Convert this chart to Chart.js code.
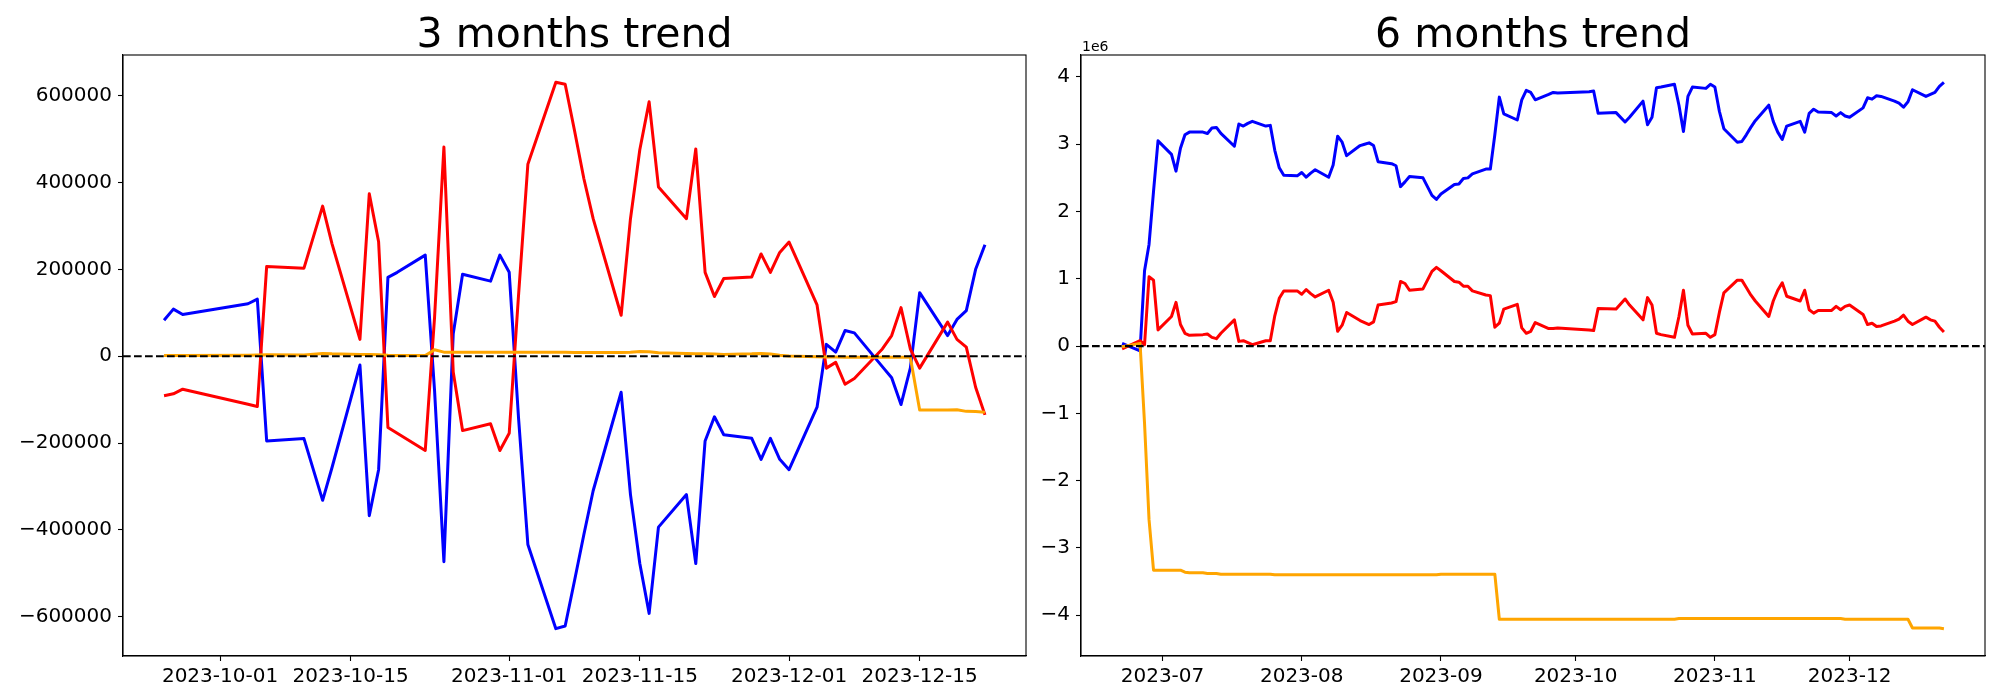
<!DOCTYPE html>
<html>
<head>
<meta charset="utf-8">
<script src="https://cdn.jsdelivr.net/npm/chart.js@4.4.0/dist/chart.umd.min.js"></script>
<style>
  body { margin: 0; background: #fff; }
  #wrap { position: relative; width: 2000px; height: 700px; }
  canvas { position: absolute; top: 0; }
</style>
</head>
<body>
<div id="wrap">
  <canvas id="left" width="1030" height="700" style="left:0"></canvas>
  <canvas id="right" width="970" height="700" style="left:1030px"></canvas>
</div>
<script>
// ---- 3 months trend (raw units) ----
const shortDates = [
  '2023-09-25','2023-09-26','2023-09-27','2023-10-04','2023-10-05','2023-10-06','2023-10-10','2023-10-12','2023-10-13',
  '2023-10-16','2023-10-17','2023-10-18','2023-10-19','2023-10-20','2023-10-23','2023-10-24','2023-10-25','2023-10-26',
  '2023-10-27','2023-10-30','2023-10-31','2023-11-01','2023-11-02','2023-11-03','2023-11-06','2023-11-07','2023-11-08',
  '2023-11-09','2023-11-10','2023-11-13','2023-11-14','2023-11-15','2023-11-16','2023-11-17','2023-11-20','2023-11-21',
  '2023-11-22','2023-11-23','2023-11-24','2023-11-27','2023-11-28','2023-11-29','2023-11-30','2023-12-01','2023-12-04',
  '2023-12-05','2023-12-06','2023-12-07','2023-12-08','2023-12-11','2023-12-12','2023-12-13','2023-12-14','2023-12-15',
  '2023-12-18','2023-12-19','2023-12-20','2023-12-21','2023-12-22'
];
const shortBlue = [
  83000, 108600, 96200, 121000, 131600, -195100, -189800, -332000, -257000,
  -20300, -367300, -261400, 181900, 193400, 233100, -80000, -473300, 52100,
  189000, 173100, 233100, 193400, -142200, -433600, -627800, -621600, -517400,
  -411500, -309900, -83000, -318800, -477700, -592500, -393800, -318800, -477700,
  -195100, -139500, -181000, -189000, -237500, -189000, -237500, -261400, -117400,
  27400, 9700, 59200, 53900, -23800, -49400, -111300, -27400, 146600,
  47700, 84800, 105100, 200400, 257000
];
const shortRed = [
  -90900, -86500, -75900, -110400, -115700, 206600, 203100, 346100, 259600,
  38900, 374400, 264000, -164200, -177500, -217200, 90000, 482100, -36200,
  -171300, -155400, -217200, -177500, 140400, 442400, 631300, 626900, 520100,
  409700, 317000, 94500, 317000, 475900, 586300, 390300, 317000, 477700,
  193400, 137700, 179200, 182800, 235800, 193400, 239300, 263100, 118300,
  -27400, -14100, -64500, -51200, 16800, 47700, 112100, 16800, -27400,
  78600, 38900, 21200, -71500, -135100
];
const shortOrange = [
  1500, 1800, 2000, 2500, 3000, 3500, 3000, 6500, 5500,
  4000, 4000, 3500, 2500, 2000, 1500, 15000, 9500, 9000,
  9000, 9500, 9000, 9000, 9000, 9000, 9000, 9000, 8500,
  8500, 8500, 8500, 9000, 11000, 10500, 8000, 6500, 6000,
  5500, 5000, 4000, 5500, 6500, 5000, 2500, 500, -1000,
  -1500, -1500, -2000, -2000, -2000, -2500, -2500, -2500, -124000,
  -124000, -123500, -127000, -127500, -129000
];
const shortTicks = ['2023-10-01','2023-10-15','2023-11-01','2023-11-15','2023-12-01','2023-12-15'];
const shortYTicks = [-600000, -400000, -200000, 0, 200000, 400000, 600000];

// ---- 6 months trend (in millions, axis offset 1e6) ----
const longDates = [
  '2023-06-22','2023-06-26','2023-06-27','2023-06-28','2023-06-29','2023-06-30',
  '2023-07-03','2023-07-04','2023-07-05','2023-07-06','2023-07-07','2023-07-10','2023-07-11','2023-07-12','2023-07-13',
  '2023-07-14','2023-07-17','2023-07-18','2023-07-19','2023-07-20','2023-07-21','2023-07-24','2023-07-25','2023-07-26',
  '2023-07-27','2023-07-28','2023-07-31',
  '2023-08-01','2023-08-02','2023-08-03','2023-08-04','2023-08-07','2023-08-08','2023-08-09','2023-08-10','2023-08-11',
  '2023-08-14','2023-08-15','2023-08-16','2023-08-17','2023-08-18','2023-08-21','2023-08-22','2023-08-23','2023-08-24',
  '2023-08-25','2023-08-28','2023-08-29','2023-08-30','2023-08-31',
  '2023-09-01','2023-09-04','2023-09-05','2023-09-06','2023-09-07','2023-09-08','2023-09-11','2023-09-12','2023-09-13',
  '2023-09-14','2023-09-15','2023-09-18','2023-09-19','2023-09-20','2023-09-21','2023-09-22'
].concat(shortDates);
const longBlue = [
  0.04, -0.07, 1.12, 1.51, 2.30, 3.05,
  2.85, 2.60, 2.94, 3.14, 3.18, 3.18, 3.16, 3.24, 3.25,
  3.16, 2.97, 3.30, 3.27, 3.31, 3.34, 3.27, 3.28, 2.91,
  2.65, 2.54, 2.53,
  2.58, 2.51, 2.57, 2.62, 2.51, 2.69, 3.12, 3.03, 2.83,
  2.98, 3.00, 3.02, 2.98, 2.74, 2.71, 2.68, 2.37, 2.44,
  2.52, 2.50, 2.37, 2.24, 2.18,
  2.26, 2.40, 2.41, 2.49, 2.50, 2.56, 2.63, 2.63, 3.14,
  3.70, 3.45, 3.36, 3.66, 3.80, 3.77, 3.66,
  3.74, 3.77, 3.76, 3.78, 3.79, 3.46, 3.47, 3.33, 3.40,
  3.64, 3.29, 3.40, 3.84, 3.85, 3.89, 3.58, 3.19, 3.71,
  3.85, 3.83, 3.89, 3.85, 3.49, 3.23, 3.03, 3.04, 3.14,
  3.25, 3.35, 3.58, 3.34, 3.18, 3.07, 3.27, 3.34, 3.18,
  3.46, 3.52, 3.48, 3.47, 3.42, 3.47, 3.42, 3.40, 3.54,
  3.69, 3.67, 3.72, 3.71, 3.64, 3.61, 3.55, 3.63, 3.81,
  3.71, 3.74, 3.77, 3.86, 3.92
];
const longRed = [
  -0.04, 0.08, 0.02, 1.03, 0.98, 0.24,
  0.44, 0.65, 0.32, 0.19, 0.16, 0.17, 0.18, 0.13, 0.11,
  0.19, 0.39, 0.07, 0.08, 0.05, 0.02, 0.08, 0.08, 0.45,
  0.71, 0.82, 0.82,
  0.77, 0.84, 0.78, 0.73, 0.83, 0.65, 0.22, 0.31, 0.50,
  0.38, 0.35, 0.32, 0.36, 0.61, 0.64, 0.66, 0.96, 0.93,
  0.83, 0.85, 0.98, 1.11, 1.17,
  1.12, 0.96, 0.95, 0.89, 0.89, 0.82, 0.76, 0.75, 0.28,
  0.34, 0.55, 0.62, 0.27, 0.19, 0.22, 0.35,
  0.26, 0.26, 0.27, 0.24, 0.23, 0.56, 0.55, 0.70, 0.61,
  0.39, 0.72, 0.61, 0.19, 0.17, 0.13, 0.44, 0.83, 0.31,
  0.18, 0.19, 0.13, 0.17, 0.50, 0.79, 0.98, 0.98, 0.87,
  0.76, 0.67, 0.44, 0.67, 0.83, 0.94, 0.74, 0.67, 0.83,
  0.54, 0.49, 0.53, 0.53, 0.59, 0.54, 0.59, 0.61, 0.47,
  0.32, 0.34, 0.29, 0.30, 0.37, 0.40, 0.46, 0.37, 0.32,
  0.43, 0.39, 0.37, 0.28, 0.21
];
const longOrange = [
  -0.01, 0.04, -1.15, -2.58, -3.33, -3.33,
  -3.33, -3.33, -3.33, -3.36, -3.37, -3.37, -3.38, -3.38, -3.38,
  -3.39, -3.39, -3.39, -3.39, -3.39, -3.39, -3.39, -3.39, -3.40,
  -3.40, -3.40, -3.40,
  -3.40, -3.40, -3.40, -3.40, -3.40, -3.40, -3.40, -3.40, -3.40,
  -3.40, -3.40, -3.40, -3.40, -3.40, -3.40, -3.40, -3.40, -3.40,
  -3.40, -3.40, -3.40, -3.40, -3.40,
  -3.39, -3.39, -3.39, -3.39, -3.39, -3.39, -3.39, -3.39, -3.39,
  -4.06, -4.06, -4.06, -4.06, -4.06, -4.06, -4.06,
  -4.06, -4.06, -4.06, -4.06, -4.06, -4.06, -4.06, -4.06, -4.06,
  -4.06, -4.06, -4.06, -4.06, -4.06, -4.06, -4.05, -4.05, -4.05,
  -4.05, -4.05, -4.05, -4.05, -4.05, -4.05, -4.05, -4.05, -4.05,
  -4.05, -4.05, -4.05, -4.05, -4.05, -4.05, -4.05, -4.05, -4.05,
  -4.05, -4.05, -4.05, -4.05, -4.05, -4.05, -4.06, -4.06, -4.06,
  -4.06, -4.06, -4.06, -4.06, -4.06, -4.06, -4.06, -4.06, -4.19,
  -4.19, -4.19, -4.19, -4.19, -4.20
];
const longTicks = ['2023-07-01','2023-08-01','2023-09-01','2023-10-01','2023-11-01','2023-12-01'];
const longYTicks = [-4, -3, -2, -1, 0, 1, 2, 3, 4];

const FONT = 'DejaVu Sans';
Chart.defaults.font.family = FONT;
Chart.defaults.font.size = 20;
Chart.defaults.color = '#000';

const toMs = s => Date.parse(s + 'T00:00:00Z');
const minus = v => (v < 0 ? '\u2212' + Math.abs(v) : String(v));

// matplotlib-like autoscale with 5% margins
const padRange = (lo, hi) => {
  const m = (hi - lo) * 0.05;
  return [lo - m, hi + m];
};

const makePoints = (dates, vals) => dates.map((d, i) => ({ x: toMs(d), y: vals[i] }));

// box, zero line, title, offset text
const decorations = (title, offsetText) => ({
  id: 'decorations',
  afterDatasetsDraw(chart) {
    const { ctx, chartArea: a, scales } = chart;
    const y0 = scales.y.getPixelForValue(0);
    ctx.save();
    ctx.strokeStyle = '#000';
    ctx.lineWidth = 2.1;
    ctx.setLineDash([7.7, 3.3]);
    ctx.beginPath();
    ctx.moveTo(a.left, y0);
    ctx.lineTo(a.right, y0);
    ctx.stroke();
    ctx.restore();
  },
  afterDraw(chart) {
    const { ctx, chartArea: a } = chart;
    ctx.save();
    ctx.strokeStyle = '#000';
    ctx.lineWidth = 1.1;
    ctx.strokeRect(a.left, a.top, a.right - a.left, a.bottom - a.top);
    ctx.fillStyle = '#000';
    ctx.textAlign = 'center';
    ctx.textBaseline = 'alphabetic';
    ctx.font = '41px "' + FONT + '"';
    ctx.fillText(title, (a.left + a.right) / 2, 46.5);
    if (offsetText) {
      ctx.textAlign = 'left';
      ctx.font = '14px "' + FONT + '"';
      ctx.fillText(offsetText, a.left + 1, 50.5);
    }
    ctx.restore();
  }
});

function buildChart(canvasId, cfg) {
  const all = cfg.blue.concat(cfg.red, cfg.orange);
  const [ymin, ymax] = padRange(Math.min(...all), Math.max(...all));
  const [xmin, xmax] = padRange(toMs(cfg.dates[0]), toMs(cfg.dates[cfg.dates.length - 1]));
  const line = (vals, color, order) => ({
    data: makePoints(cfg.dates, vals),
    borderColor: color,
    backgroundColor: color,
    borderWidth: 3,
    pointRadius: 0,
    tension: 0,
    fill: false,
    borderJoinStyle: 'round',
    order: order
  });
  return new Chart(document.getElementById(canvasId), {
    type: 'line',
    data: {
      datasets: [
        line(cfg.blue, '#0000ff', 3),
        line(cfg.red, '#ff0000', 2),
        line(cfg.orange, '#ffa500', 1)
      ]
    },
    options: {
      responsive: false,
      animation: false,
      devicePixelRatio: 1,
      layout: { padding: { top: 55, right: cfg.padRight, bottom: 0, left: 0 } },
      plugins: { legend: { display: false }, tooltip: { enabled: false }, title: { display: false } },
      scales: {
        x: {
          type: 'linear',
          min: xmin,
          max: xmax,
          afterBuildTicks: s => { s.ticks = cfg.xTicks.map(d => ({ value: toMs(d) })); },
          afterFit: s => { s.height = 44; },
          ticks: {
            autoSkip: false,
            maxRotation: 0,
            padding: 4,
            callback: (v, i) => cfg.xLabel(cfg.xTicks[i])
          },
          grid: { drawOnChartArea: false, drawTicks: true, tickLength: 5, tickColor: '#000', tickWidth: 1.1 },
          border: { display: true, color: '#000', width: 1.1 }
        },
        y: {
          type: 'linear',
          min: ymin,
          max: ymax,
          afterBuildTicks: s => { s.ticks = cfg.yTicks.map(v => ({ value: v })); },
          afterFit: s => { s.width = cfg.yWidth; },
          ticks: { padding: 6, callback: v => minus(v) },
          grid: { drawOnChartArea: false, drawTicks: true, tickLength: 5, tickColor: '#000', tickWidth: 1.1 },
          border: { display: true, color: '#000', width: 1.1 }
        }
      }
    },
    plugins: [decorations(cfg.title, cfg.offsetText)]
  });
}

buildChart('left', {
  title: '3 months trend',
  dates: shortDates,
  blue: shortBlue,
  red: shortRed,
  orange: shortOrange,
  xTicks: shortTicks,
  xLabel: d => d,
  yTicks: shortYTicks,
  yWidth: 123,
  padRight: 4
});

buildChart('right', {
  title: '6 months trend',
  offsetText: '1e6',
  dates: longDates,
  blue: longBlue,
  red: longRed,
  orange: longOrange,
  xTicks: longTicks,
  xLabel: d => d.slice(0, 7),
  yTicks: longYTicks,
  yWidth: 51,
  padRight: 15
});
</script>
</body>
</html>
